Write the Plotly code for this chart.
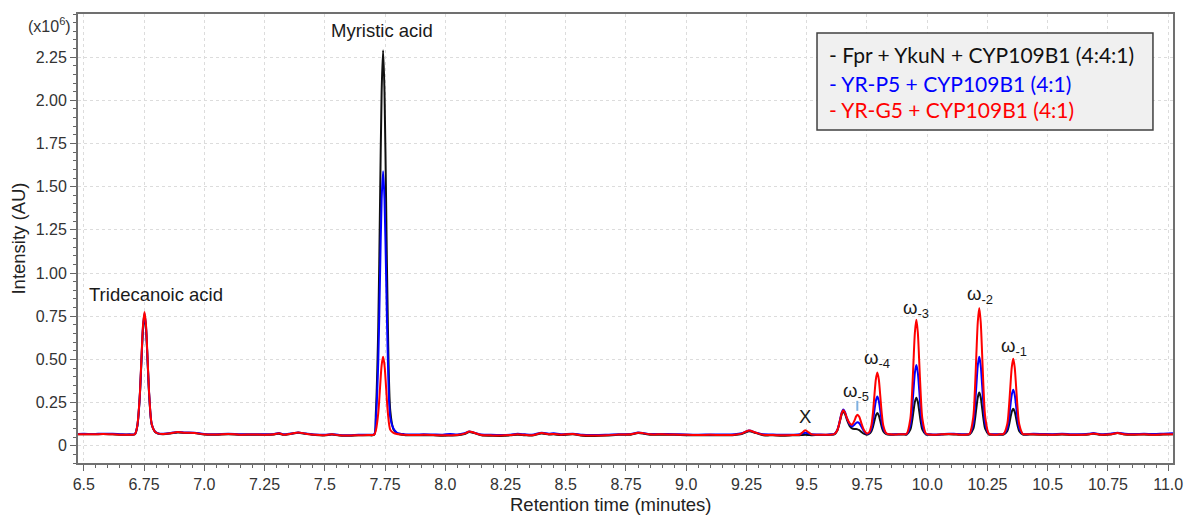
import plotly.graph_objects as go

# Retention time grid (minutes) shared by the three chromatograms
rt = [
    6.476, 6.50, 6.54, 6.58, 6.62, 6.66, 6.69, 6.712,
    6.722, 6.732, 6.739, 6.746, 6.752, 6.758, 6.765, 6.772, 6.782, 6.795, 6.81,
    6.83, 6.86, 6.89, 6.92, 6.96, 7.00, 7.05, 7.10, 7.15, 7.20, 7.25, 7.29, 7.31,
    7.33, 7.36, 7.39, 7.42, 7.46, 7.50, 7.53, 7.56, 7.60, 7.64, 7.68, 7.705,
    7.712, 7.722, 7.7295, 7.736, 7.742, 7.748, 7.7545, 7.762, 7.772, 7.785, 7.80,
    7.83, 7.87, 7.91, 7.95, 7.99, 8.02, 8.05, 8.08, 8.10, 8.12, 8.15, 8.19, 8.23,
    8.27, 8.30, 8.33, 8.36, 8.40, 8.43, 8.45, 8.48, 8.53, 8.57, 8.62, 8.67, 8.72,
    8.77, 8.80, 8.82, 8.85, 8.90, 8.95, 9.00, 9.05, 9.10, 9.15, 9.20, 9.23, 9.26,
    9.29, 9.32, 9.36, 9.40, 9.44, 9.47,
    9.48, 9.494, 9.508, 9.52, 9.55, 9.58, 9.60,
    9.615, 9.627, 9.638, 9.645, 9.652, 9.659, 9.667, 9.678, 9.688, 9.698,
    9.705, 9.711, 9.718, 9.727, 9.737, 9.748, 9.758, 9.768, 9.775, 9.781,
    9.787, 9.793, 9.799, 9.805, 9.811, 9.818, 9.83, 9.845,
    9.86, 9.88, 9.90,
    9.915, 9.93, 9.937, 9.943, 9.949, 9.955, 9.961, 9.967, 9.973, 9.98, 9.995, 10.01,
    10.03, 10.06, 10.09, 10.12, 10.15, 10.165,
    10.176, 10.191, 10.198, 10.204, 10.210, 10.216, 10.222, 10.228, 10.234, 10.241, 10.256, 10.27,
    10.285, 10.30,
    10.317, 10.332, 10.339, 10.345, 10.351, 10.357, 10.363, 10.369, 10.375, 10.382, 10.397, 10.412,
    10.44, 10.48, 10.52, 10.56, 10.60, 10.64, 10.67, 10.69, 10.72, 10.76, 10.79,
    10.82, 10.86, 10.90, 10.94, 10.98, 11.02,
]

# Intensity (x10^6 AU): Fpr + YkuN + CYP109B1
fpr_ykun = [
    0.066, 0.067, 0.066, 0.068, 0.066, 0.064, 0.064, 0.066,
    0.112, 0.275, 0.481, 0.681, 0.750, 0.681, 0.481, 0.278, 0.121, 0.081, 0.069,
    0.067, 0.071, 0.077, 0.074, 0.073, 0.065, 0.064, 0.067, 0.063, 0.064, 0.063, 0.065, 0.070,
    0.063, 0.069, 0.075, 0.069, 0.062, 0.060, 0.065, 0.059, 0.058, 0.060, 0.061, 0.063,
    0.190, 0.683, 1.415, 2.047, 2.290, 2.047, 1.415, 0.683, 0.200, 0.095, 0.072,
    0.062, 0.060, 0.061, 0.060, 0.058, 0.059, 0.060, 0.068, 0.080, 0.073, 0.060, 0.058, 0.057,
    0.060, 0.064, 0.061, 0.059, 0.071, 0.065, 0.066, 0.062, 0.066, 0.058, 0.057, 0.059, 0.063,
    0.064, 0.073, 0.071, 0.064, 0.064, 0.063, 0.061, 0.060, 0.061, 0.060, 0.062, 0.068, 0.084,
    0.073, 0.061, 0.060, 0.058, 0.060, 0.061,
    0.062, 0.063, 0.062, 0.061, 0.062, 0.062, 0.064,
    0.066, 0.088, 0.142, 0.181, 0.198, 0.183, 0.150, 0.115, 0.100, 0.097,
    0.097, 0.095, 0.090, 0.080, 0.070, 0.064, 0.068, 0.083, 0.110, 0.144,
    0.176, 0.190, 0.176, 0.144, 0.110, 0.083, 0.068, 0.064,
    0.064, 0.065, 0.065,
    0.065, 0.093, 0.140, 0.199, 0.255, 0.278, 0.255, 0.199, 0.140, 0.093, 0.065, 0.064,
    0.062, 0.065, 0.067, 0.065, 0.063, 0.064,
    0.065, 0.097, 0.150, 0.218, 0.281, 0.308, 0.281, 0.218, 0.150, 0.097, 0.065, 0.064,
    0.063, 0.064,
    0.065, 0.084, 0.117, 0.159, 0.198, 0.214, 0.198, 0.159, 0.117, 0.084, 0.065, 0.064,
    0.065, 0.064, 0.063, 0.065, 0.062, 0.063, 0.065, 0.070, 0.063, 0.065, 0.073,
    0.065, 0.064, 0.065, 0.063, 0.065, 0.066,
]

# Intensity (x10^6 AU): YR-P5 + CYP109B1
yr_p5 = [
    0.068, 0.069, 0.068, 0.070, 0.069, 0.066, 0.066, 0.068,
    0.114, 0.279, 0.489, 0.693, 0.765, 0.693, 0.489, 0.283, 0.124, 0.083, 0.071,
    0.070, 0.074, 0.080, 0.077, 0.075, 0.068, 0.067, 0.069, 0.066, 0.067, 0.066, 0.068, 0.073,
    0.066, 0.071, 0.076, 0.071, 0.065, 0.063, 0.067, 0.062, 0.061, 0.063, 0.064, 0.066,
    0.151, 0.490, 0.991, 1.424, 1.590, 1.424, 0.991, 0.490, 0.160, 0.100, 0.075,
    0.067, 0.065, 0.066, 0.065, 0.064, 0.068, 0.065, 0.072, 0.083, 0.076, 0.065, 0.063, 0.062,
    0.064, 0.069, 0.066, 0.064, 0.075, 0.070, 0.072, 0.067, 0.070, 0.063, 0.062, 0.064, 0.067,
    0.068, 0.076, 0.074, 0.068, 0.068, 0.067, 0.065, 0.064, 0.065, 0.065, 0.066, 0.072, 0.088,
    0.076, 0.066, 0.065, 0.063, 0.064, 0.066,
    0.070, 0.075, 0.071, 0.066, 0.065, 0.064, 0.066,
    0.069, 0.092, 0.149, 0.192, 0.210, 0.195, 0.158, 0.125, 0.112, 0.122,
    0.132, 0.136, 0.130, 0.110, 0.085, 0.070, 0.072, 0.097, 0.145, 0.205,
    0.261, 0.285, 0.261, 0.205, 0.145, 0.097, 0.071, 0.066,
    0.066, 0.067, 0.068,
    0.068, 0.120, 0.208, 0.320, 0.424, 0.468, 0.424, 0.320, 0.208, 0.120, 0.068, 0.066,
    0.065, 0.067, 0.070, 0.068, 0.066, 0.066,
    0.069, 0.127, 0.225, 0.349, 0.466, 0.515, 0.466, 0.349, 0.225, 0.127, 0.069, 0.066,
    0.066, 0.067,
    0.068, 0.101, 0.157, 0.229, 0.296, 0.324, 0.296, 0.229, 0.157, 0.101, 0.068, 0.067,
    0.069, 0.068, 0.067, 0.069, 0.066, 0.067, 0.069, 0.073, 0.067, 0.069, 0.075,
    0.069, 0.068, 0.069, 0.068, 0.070, 0.072,
]

# Intensity (x10^6 AU): YR-G5 + CYP109B1
yr_g5 = [
    0.066, 0.067, 0.066, 0.068, 0.066, 0.063, 0.064, 0.067,
    0.116, 0.283, 0.496, 0.703, 0.775, 0.703, 0.496, 0.285, 0.125, 0.082, 0.070,
    0.068, 0.072, 0.079, 0.075, 0.074, 0.066, 0.065, 0.068, 0.064, 0.065, 0.064, 0.066, 0.072,
    0.064, 0.070, 0.077, 0.070, 0.063, 0.061, 0.066, 0.060, 0.059, 0.061, 0.062, 0.064,
    0.089, 0.189, 0.338, 0.466, 0.515, 0.466, 0.338, 0.189, 0.092, 0.075, 0.068,
    0.064, 0.062, 0.063, 0.062, 0.060, 0.061, 0.062, 0.070, 0.083, 0.075, 0.062, 0.060, 0.059,
    0.062, 0.066, 0.063, 0.061, 0.073, 0.067, 0.068, 0.064, 0.068, 0.060, 0.059, 0.061, 0.065,
    0.066, 0.075, 0.073, 0.066, 0.066, 0.065, 0.063, 0.062, 0.063, 0.062, 0.064, 0.070, 0.088,
    0.075, 0.063, 0.062, 0.060, 0.062, 0.063,
    0.075, 0.089, 0.077, 0.066, 0.064, 0.063, 0.064,
    0.068, 0.090, 0.146, 0.187, 0.205, 0.190, 0.160, 0.130, 0.122, 0.145,
    0.170, 0.180, 0.168, 0.130, 0.092, 0.072, 0.076, 0.116, 0.194, 0.293,
    0.385, 0.424, 0.385, 0.293, 0.194, 0.116, 0.072, 0.066,
    0.065, 0.066, 0.067,
    0.070, 0.156, 0.301, 0.484, 0.657, 0.729, 0.657, 0.484, 0.301, 0.156, 0.070, 0.065,
    0.063, 0.066, 0.068, 0.066, 0.064, 0.065,
    0.069, 0.164, 0.324, 0.528, 0.718, 0.798, 0.718, 0.528, 0.324, 0.164, 0.069, 0.065,
    0.064, 0.066,
    0.068, 0.124, 0.220, 0.341, 0.455, 0.503, 0.455, 0.341, 0.220, 0.124, 0.068, 0.066,
    0.066, 0.065, 0.064, 0.066, 0.063, 0.064, 0.066, 0.071, 0.064, 0.066, 0.074,
    0.066, 0.065, 0.066, 0.064, 0.066, 0.067,
]

series = [fpr_ykun, yr_p5, yr_g5]
series_names = [
    "- Fpr + YkuN + CYP109B1 (4:4:1)",
    "- YR-P5 + CYP109B1 (4:1)",
    "- YR-G5 + CYP109B1 (4:1)",
]
series_colors = ["#111111", "#0000ff", "#ff0000"]

x_ticks = [6.5, 6.75, 7.0, 7.25, 7.5, 7.75, 8.0, 8.25, 8.5, 8.75, 9.0,
           9.25, 9.5, 9.75, 10.0, 10.25, 10.5, 10.75, 11.0]
x_tick_text = ["6.5", "6.75", "7.0", "7.25", "7.5", "7.75", "8.0", "8.25", "8.5",
               "8.75", "9.0", "9.25", "9.5", "9.75", "10.0", "10.25", "10.5",
               "10.75", "11.0"]
y_ticks = [0, 0.25, 0.5, 0.75, 1.0, 1.25, 1.5, 1.75, 2.0, 2.25]
y_tick_text = ["0", "0.25", "0.50", "0.75", "1.00", "1.25", "1.50", "1.75",
               "2.00", "2.25"]

# Peak labels: text, retention time, height of label centre
peak_labels = ["Tridecanoic acid", "Myristic acid", "X", "ω<sub>-5</sub>",
               "ω<sub>-4</sub>", "ω<sub>-3</sub>", "ω<sub>-2</sub>", "ω<sub>-1</sub>"]
peak_label_rt = [6.80, 7.739, 9.494, 9.705, 9.792, 9.953, 10.22, 10.359]
peak_label_y = [0.873, 2.406, 0.168, 0.31, 0.50, 0.79, 0.87, 0.57]

# Marker under the ω-5 label
omega5_rt = 9.71
omega5_span = [0.202, 0.26]

fig = go.Figure()
for vals, name, col in zip(series, series_names, series_colors):
    fig.add_trace(go.Scatter(
        x=rt, y=vals, mode="lines", name=name,
        line=dict(color=col, width=2, shape="spline", smoothing=0.8),
        showlegend=False,
    ))

label_font = dict(family="Liberation Sans, Arial, sans-serif", size=18.5, color="#1a1a1a")
for txt, xv, yv in zip(peak_labels, peak_label_rt, peak_label_y):
    fig.add_annotation(x=xv, y=yv, xref="x", yref="y", text=txt, showarrow=False,
                       font=label_font, xanchor="center", yanchor="middle")

fig.add_shape(type="line", xref="x", yref="y", x0=omega5_rt, x1=omega5_rt,
              y0=omega5_span[0], y1=omega5_span[1],
              line=dict(color="#7fb0e0", width=2))

# Scale factor label above the y axis
fig.add_annotation(x=0, y=2.435, xref="paper", yref="y", text="(x10<sup>6</sup>)",
                   showarrow=False, xanchor="right", yanchor="middle", xshift=-5,
                   font=dict(family="Liberation Sans, Arial, sans-serif", size=16, color="#333333"))

# Key box
fig.add_shape(type="rect", xref="paper", yref="paper", x0=0.6749, x1=0.9817,
              y0=0.7416, y1=0.9577, fillcolor="#f0f0f0",
              line=dict(color="#404040", width=1.5), layer="above")
key_y = [0.9109, 0.8463, 0.7862]
for name, col, ky in zip(series_names, series_colors, key_y):
    fig.add_annotation(x=0.684, y=ky, xref="paper", yref="paper", text=name,
                       showarrow=False, xanchor="left", yanchor="middle",
                       font=dict(family="Lato, sans-serif", size=21, color=col))

tick_font = dict(family="Liberation Sans, Arial, sans-serif", size=16, color="#333333")
title_font = dict(family="Liberation Sans, Arial, sans-serif", size=18.5, color="#222222")

# X axis title, set slightly left of the plot centre
fig.add_annotation(x=0.4868, y=0, xref="paper", yref="paper",
                   text="Retention time (minutes)", showarrow=False,
                   xanchor="center", yanchor="middle", yshift=-41.5, font=title_font)

fig.update_layout(
    width=1185, height=516,
    margin=dict(l=78, r=12, t=14, b=53),
    paper_bgcolor="white", plot_bgcolor="white",
    xaxis=dict(
        range=[6.476, 11.02], tickmode="array", tickvals=x_ticks, ticktext=x_tick_text,
        ticks="outside", ticklen=6, tickcolor="#666666", tickfont=tick_font,
        minor=dict(tickmode="linear", tick0=6.5, dtick=0.05, ticks="outside",
                   ticklen=3, tickcolor="#666666", showgrid=False),
        showgrid=True, gridcolor="#dcdcdc", griddash="dot", gridwidth=1,
        showline=True, linecolor="#707070", linewidth=2, mirror=True,
        zeroline=False, automargin=False,
    ),
    yaxis=dict(
        range=[-0.1, 2.5], tickmode="array", tickvals=y_ticks, ticktext=y_tick_text,
        ticks="outside", ticklen=6, tickcolor="#666666", tickfont=tick_font,
        minor=dict(tickmode="linear", tick0=0, dtick=0.05, ticks="outside",
                   ticklen=3, tickcolor="#666666", showgrid=False),
        showgrid=True, gridcolor="#dcdcdc", griddash="dot", gridwidth=1,
        showline=True, linecolor="#707070", linewidth=2, mirror=True,
        zeroline=False, automargin=False,
        title=dict(text="Intensity (AU)", font=title_font, standoff=5),
    ),
)

fig.write_html("out.html")
